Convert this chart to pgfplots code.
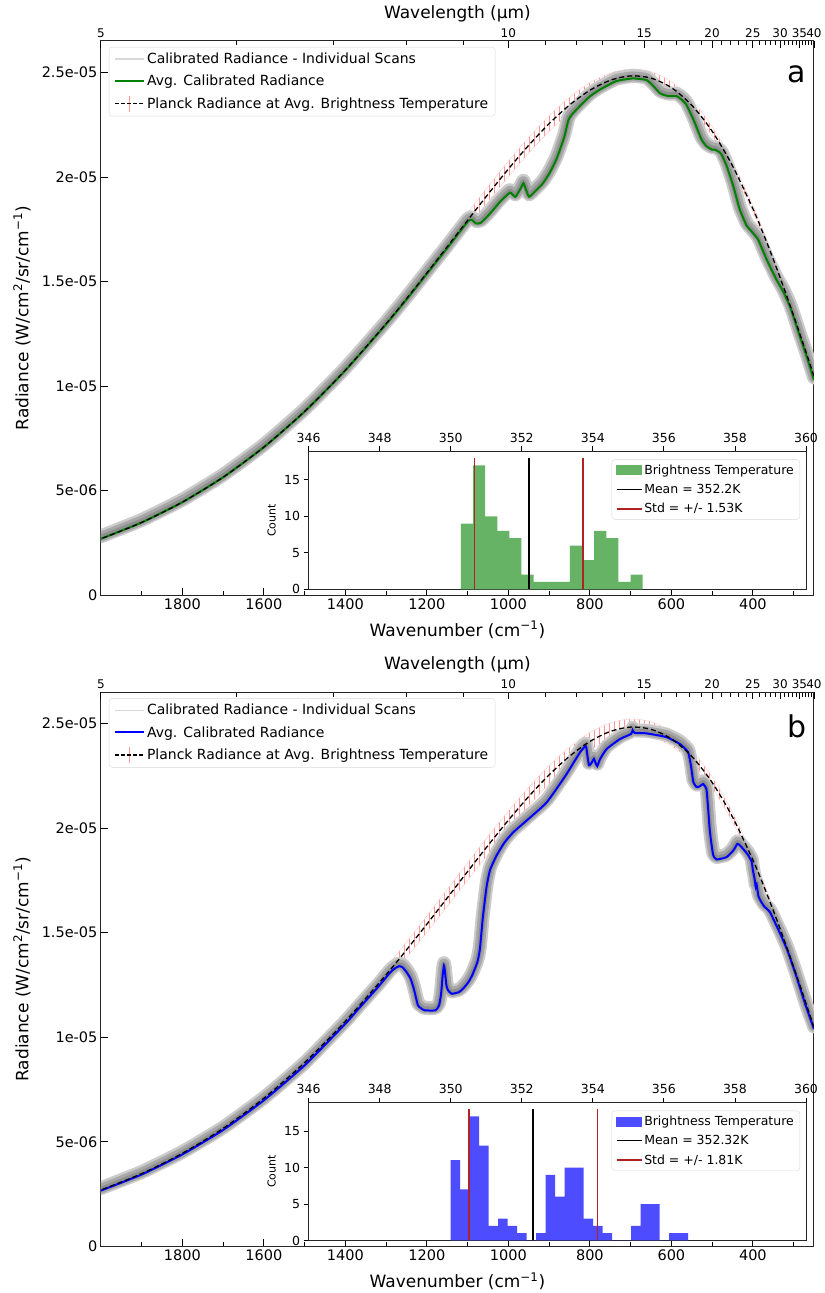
\documentclass[border=0pt]{standalone}
\usepackage{fontspec}
\setmainfont{DejaVu Sans}
\usepackage{pgfplots}
\usepackage{pgfplotstable}
\pgfplotsset{compat=1.18}
\usepgfplotslibrary{fillbetween}
\usetikzlibrary{patterns.meta}

\definecolor{mplgreen}{RGB}{0,128,0}
\definecolor{mplblue}{RGB}{0,0,255}
\definecolor{histgreen}{RGB}{102,179,102}
\definecolor{histblue}{RGB}{77,77,255}
\definecolor{stdred}{RGB}{178,34,34}
\definecolor{hatchred}{RGB}{255,150,150}

% Planck radiance (1e-5 W/cm2/sr/cm-1) at avg brightness temperature, with +/- std band
\pgfplotstableread{
nu B loa hia lob hib
250 1.0475 1.0402 1.0548 1.0389 1.0561
275 1.1936 1.1849 1.2023 1.1834 1.2039
300 1.3366 1.3265 1.3467 1.3247 1.3485
325 1.4749 1.4633 1.4865 1.4612 1.4886
350 1.6070 1.5939 1.6201 1.5915 1.6225
375 1.7318 1.7171 1.7465 1.7144 1.7492
400 1.8481 1.8318 1.8644 1.8288 1.8674
450 2.0532 2.0337 2.0727 2.0301 2.0763
500 2.2186 2.1960 2.2412 2.1918 2.2454
550 2.3428 2.3172 2.3684 2.3126 2.3731
600 2.4268 2.3985 2.4551 2.3934 2.4603
650 2.4723 2.4416 2.5030 2.4360 2.5086
700 2.4829 2.4502 2.5156 2.4442 2.5216
750 2.4619 2.4275 2.4963 2.4212 2.5026
800 2.4141 2.3785 2.4497 2.3720 2.4563
850 2.3435 2.3070 2.3800 2.3003 2.3867
900 2.2546 2.2177 2.2916 2.2109 2.2983
950 2.1513 2.1143 2.1883 2.1075 2.1951
1000 2.0377 2.0009 2.0745 1.9942 2.0812
1050 1.9171 1.8809 1.9533 1.8743 1.9599
1100 1.7925 1.7571 1.8279 1.7506 1.8344
1150 1.6663 1.6320 1.7006 1.6257 1.7069
1200 1.5409 1.5078 1.5740 1.5018 1.5800
1250 1.4178 1.3862 1.4494 1.3804 1.4552
1300 1.2988 1.2687 1.3289 1.2632 1.3344
1400 1.0765 1.0497 1.1033 1.0448 1.1083
1500 0.8790 0.8556 0.9025 0.8513 0.9067
1600 0.7086 0.6885 0.7288 0.6848 0.7324
1700 0.5646 0.5476 0.5817 0.5444 0.5848
1800 0.4453 0.4311 0.4595 0.4285 0.4621
1900 0.3480 0.3363 0.3597 0.3341 0.3619
2000 0.2698 0.2602 0.2794 0.2585 0.2811
}\planck

% Panel a: average calibrated radiance
\pgfplotstableread{
nu y
250 1.030
268 1.142
285 1.240
300 1.330
309 1.381
325 1.450
342 1.509
355 1.560
366 1.605
378 1.660
387 1.700
399 1.730
407 1.748
415 1.766
432 1.844
448 1.956
464 2.051
477 2.108
485 2.122
493 2.130
501 2.131
514 2.147
526 2.179
546 2.275
563 2.345
575 2.370
587 2.386
604 2.386
615 2.390
628 2.400
644 2.434
661 2.463
694 2.471
735 2.458
775 2.418
800 2.385
824 2.340
845 2.296
853 2.270
863 2.190
882 2.085
900 2.015
917 1.965
935 1.930
949 1.905
956 1.935
963 1.970
970 1.945
983 1.905
996 1.925
1021 1.880
1045 1.825
1068 1.780
1080 1.778
1090 1.795
1100 1.786
1150 1.660
1200 1.537
1250 1.414
1300 1.296
1400 1.075
1500 0.878
1600 0.708
1700 0.564
1800 0.445
1900 0.348
2000 0.270
}\avga

% Panel b: average calibrated radiance
\pgfplotstableread{
nu y
250 1.040
270 1.150
293 1.290
315 1.415
334 1.500
358 1.598
372 1.625
379 1.646
386 1.672
391 1.733
393 1.718
396 1.760
400 1.800
403 1.840
413 1.875
424 1.901
432 1.918
438 1.925
448 1.893
465 1.861
489 1.850
497 1.869
502 1.930
506 1.996
510 2.100
514 2.187
522 2.211
530 2.200
538 2.196
546 2.220
552 2.300
559 2.363
579 2.402
612 2.435
661 2.453
690 2.455
695 2.468
699 2.450
726 2.426
759 2.378
775 2.330
782 2.296
786 2.312
790 2.331
795 2.315
802 2.300
807 2.360
810 2.392
824 2.363
860 2.250
906 2.123
950 2.045
988 1.980
1010 1.930
1029 1.869
1045 1.800
1053 1.726
1058 1.650
1063 1.566
1070 1.420
1076 1.360
1088 1.300
1098 1.264
1110 1.235
1121 1.216
1139 1.208
1148 1.225
1152 1.248
1156 1.320
1158 1.343
1161 1.300
1165 1.210
1170 1.153
1179 1.129
1206 1.129
1215 1.140
1222 1.153
1232 1.232
1240 1.280
1250 1.312
1260 1.335
1268 1.340
1278 1.330
1290 1.310
1320 1.240
1366 1.140
1400 1.065
1500 0.866
1600 0.699
1700 0.557
1800 0.440
1900 0.344
2000 0.267
}\avgb

\pgfplotsset{
  mainax/.style={
    scale only axis, width=714pt, height=555pt,
    x dir=reverse, xmin=250, xmax=2000, ymin=0, ymax=2.65,
    xtick={400,600,800,1000,1200,1400,1600,1800},
    xticklabels={400,600,800,1000,1200,1400,1600,1800},
    minor xtick={300,500,700,900,1100,1300,1500,1700,1900},
    ytick={0,0.5,1,1.5,2,2.5},
    yticklabels={0,5e-06,1e-05,1.5e-05,2e-05,2.5e-05},
    xtick pos=left, ytick pos=left,
    tick align=inside,
    major tick length=7pt, minor tick length=4.5pt,
    tick style={black, line width=0.8pt},
    axis line style={line width=1pt, black!85},
    tick label style={font=\fontsize{14.5}{17}\selectfont},
    label style={font=\fontsize{17}{20}\selectfont},
    xlabel={Wavenumber (cm\textsuperscript{−1})},
    ylabel={Radiance (W/cm\textsuperscript{2}/sr/cm\textsuperscript{−1})},
    xlabel style={at={(axis description cs:0.5,-0.0625)}, anchor=center},
    ylabel style={at={(axis description cs:-0.1106,0.5)}, anchor=center},
    legend cell align=left,
    legend style={at={(0.0112,0.9892)}, anchor=north west, draw=black!15,
      rounded corners=3pt, fill=white, font=\fontsize{14}{16}\selectfont,
      row sep=6pt, inner xsep=5pt, inner ysep=4pt},
    legend image code/.code={\draw[#1] (0pt,0pt) -- (29pt,0pt);},
  },
  topax/.style={
    scale only axis, width=714pt, height=555pt,
    x dir=reverse, xmin=250, xmax=2000, ymin=0, ymax=1,
    axis x line=top, axis y line=none,
    x axis line style={-, line width=1pt, black!85},
    xtick={2000,1000,666.667,500,400,333.333,285.714,250},
    xticklabels={5,10,15,20,25,30,35,40},
    minor xtick={1666.667,1428.571,1250,1111.111,909.091,833.333,769.231,714.286,625,588.235,555.556,526.316,476.190,454.545,434.783,416.667,384.615,370.370,357.143,344.828,322.581,312.5,303.030,294.118,277.778,270.270,263.158,256.410},
    tick align=inside, major tick length=7pt, minor tick length=4.5pt,
    tick style={black, line width=0.8pt},
    tick label style={font=\fontsize{12}{14}\selectfont},
    xlabel={Wavelength (µm)},
    label style={font=\fontsize{17}{20}\selectfont},
    xlabel style={at={(axis description cs:0.5,1.0486)}, anchor=center},
  },
  insetax/.style={
    scale only axis, width=498pt, height=138pt,
    xmin=346, xmax=360, ymin=0, ymax=18.9,
    xtick={346,348,350,352,354,356,358,360},
    xticklabels={346,348,350,352,354,356,358,360},
    ytick={0,5,10,15}, yticklabels={0,5,10,15},
    xtick pos=right, xticklabel pos=right, ytick pos=left,
    tick align=outside, major tick length=5pt,
    tick style={black, line width=0.8pt},
    axis line style={line width=0.9pt, black!85},
    tick label style={font=\fontsize{12.5}{15}\selectfont},
    ylabel={Count},
    ylabel style={font=\fontsize{11}{13}\selectfont, at={(axis description cs:-0.0743,0.5)}, anchor=center},
    axis background/.style={fill=white},
    legend cell align=left,
    legend style={at={(0.988,0.942)}, anchor=north east, draw=black!15,
      rounded corners=3pt, fill=white, font=\fontsize{12.5}{15}\selectfont,
      row sep=4.5pt, inner xsep=4pt, inner ysep=3pt},
    legend image code/.code={\draw[#1] (0pt,0pt) -- (25pt,0pt);},
  },
  scanwide/.style={gray!40, line width=14pt, yshift=2.5pt, smooth, tension=0.3, line join=round, line cap=round, forget plot},
  scanmid/.style={gray!68, line width=10pt, yshift=2pt, smooth, tension=0.3, line join=round, line cap=round, forget plot},
  scancore/.style={gray!88, line width=5pt, yshift=1.5pt, smooth, tension=0.3, line join=round, line cap=round, forget plot},
  hatchband/.style={pattern={Lines[angle=90,distance=5pt,line width=0.9pt]}, pattern color=hatchred, draw=none, forget plot},
}

\begin{document}
\begin{tikzpicture}
\path (0pt,0pt) rectangle (822pt,-1293pt);

% ================= PANEL A =================
\begin{axis}[mainax, at={(101pt,-596pt)}, anchor=south west]
\addlegendimage{gray!30, line width=1.5pt}
\addlegendentry{Calibrated Radiance - Individual Scans}
\addlegendimage{mplgreen, line width=2pt}
\addlegendentry{Avg. Calibrated Radiance}
\addlegendimage{legend image code/.code={\draw[hatchred,line width=0.8pt,sharp corners] (14pt,-8pt)--(14pt,8pt); \draw[black,line width=1.2pt,dash pattern=on 4pt off 2pt] (0pt,0pt)--(29pt,0pt);}}
\addlegendentry{Planck Radiance at Avg. Brightness Temperature}

\addplot[name path=loA, draw=hatchred!50, line width=0.4pt, smooth, forget plot] table[x=nu,y=loa]{\planck};
\addplot[name path=hiA, draw=hatchred!50, line width=0.4pt, smooth, forget plot] table[x=nu,y=hia]{\planck};
\addplot[hatchband] fill between[of=loA and hiA];

\addplot[scanwide] table[x=nu,y=y]{\avga};
\addplot[scanmid] table[x=nu,y=y]{\avga};
\addplot[scancore] table[x=nu,y=y]{\avga};
\addplot[mplgreen, line width=2pt, smooth, tension=0.3, forget plot] table[x=nu,y=y]{\avga};
\addplot[black, line width=1.3pt, dash pattern=on 5pt off 3pt, smooth, forget plot] table[x=nu,y=B]{\planck};

\node[font=\fontsize{30}{36}\selectfont] at (rel axis cs:0.976,0.940) {a};
\end{axis}

\begin{axis}[topax, at={(101pt,-596pt)}, anchor=south west]
\addplot[draw=none] coordinates {(1000,0.5)};
\end{axis}

\begin{axis}[insetax, at={(309pt,-590pt)}, anchor=south west]
\addlegendimage{legend image code/.code={\fill[histgreen,sharp corners] (0pt,-4.5pt) rectangle (25pt,4.5pt);}}
\addlegendentry{Brightness Temperature}
\addlegendimage{black, line width=1.5pt}
\addlegendentry{Mean = 352.2K}
\addlegendimage{stdred, line width=1.5pt}
\addlegendentry{Std = +/- 1.53K}

\addplot[const plot, fill=histgreen, draw=none, forget plot] coordinates {
(350.286,0) (350.286,9) (350.627,17) (350.968,10) (351.310,8) (351.651,7)
(351.992,2) (352.333,1) (352.674,1) (353.016,1) (353.357,6) (353.698,4)
(354.039,8) (354.380,7) (354.722,1) (355.063,2) (355.404,2) (355.404,0)} \closedcycle;
\addplot[black, line width=1.5pt, forget plot] coordinates {(352.2,0) (352.2,18)};
\addplot[stdred, line width=1.5pt, forget plot] coordinates {(350.67,0) (350.67,18)};
\addplot[stdred, line width=1.5pt, forget plot] coordinates {(353.73,0) (353.73,18)};
\end{axis}

% ================= PANEL B =================
\begin{axis}[mainax, at={(101pt,-1248pt)}, anchor=south west]
\addlegendimage{gray!30, line width=1.5pt}
\addlegendentry{Calibrated Radiance - Individual Scans}
\addlegendimage{mplblue, line width=2pt}
\addlegendentry{Avg. Calibrated Radiance}
\addlegendimage{legend image code/.code={\draw[hatchred,line width=0.8pt,sharp corners] (14pt,-8pt)--(14pt,8pt); \draw[black,line width=1.2pt,dash pattern=on 4pt off 2pt] (0pt,0pt)--(29pt,0pt);}}
\addlegendentry{Planck Radiance at Avg. Brightness Temperature}

\addplot[name path=loB, draw=hatchred!50, line width=0.4pt, smooth, forget plot] table[x=nu,y=lob]{\planck};
\addplot[name path=hiB, draw=hatchred!50, line width=0.4pt, smooth, forget plot] table[x=nu,y=hib]{\planck};
\addplot[hatchband] fill between[of=loB and hiB];

\addplot[scanwide] table[x=nu,y=y]{\avgb};
\addplot[scanmid] table[x=nu,y=y]{\avgb};
\addplot[scancore] table[x=nu,y=y]{\avgb};
\addplot[mplblue, line width=2pt, smooth, tension=0.3, forget plot] table[x=nu,y=y]{\avgb};
\addplot[black, line width=1.3pt, dash pattern=on 5pt off 3pt, smooth, forget plot] table[x=nu,y=B]{\planck};

\node[font=\fontsize{30}{36}\selectfont] at (rel axis cs:0.976,0.938) {b};
\end{axis}

\begin{axis}[topax, at={(101pt,-1248pt)}, anchor=south west]
\addplot[draw=none] coordinates {(1000,0.5)};
\end{axis}

\begin{axis}[insetax, at={(309pt,-1242pt)}, anchor=south west]
\addlegendimage{legend image code/.code={\fill[histblue,sharp corners] (0pt,-4.5pt) rectangle (25pt,4.5pt);}}
\addlegendentry{Brightness Temperature}
\addlegendimage{black, line width=1.5pt}
\addlegendentry{Mean = 352.32K}
\addlegendimage{stdred, line width=1.5pt}
\addlegendentry{Std = +/- 1.81K}

\addplot[const plot, fill=histblue, draw=none, forget plot] coordinates {
(349.996,0) (349.996,11) (350.263,7) (350.531,17) (350.798,13) (351.065,2)
(351.333,3) (351.600,2) (351.867,1) (352.135,0) (352.402,1) (352.670,9)
(352.937,6) (353.204,10) (353.472,10) (353.739,3) (354.006,2) (354.274,1)
(354.541,0) (354.808,0) (355.076,2) (355.343,5) (355.610,5) (355.878,0)
(356.145,1) (356.412,1) (356.680,1) (356.680,0)} \closedcycle;
\addplot[black, line width=1.5pt, forget plot] coordinates {(352.32,0) (352.32,18)};
\addplot[stdred, line width=1.5pt, forget plot] coordinates {(350.51,0) (350.51,18)};
\addplot[stdred, line width=1.5pt, forget plot] coordinates {(354.13,0) (354.13,18)};
\end{axis}

\end{tikzpicture}
\end{document}
